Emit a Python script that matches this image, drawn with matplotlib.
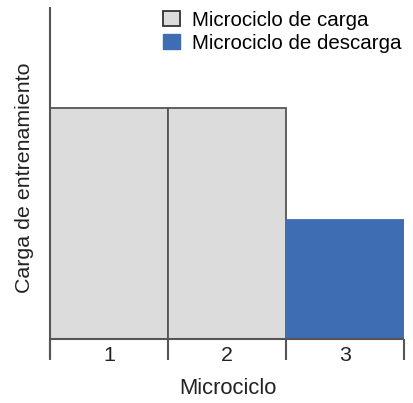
import matplotlib.pyplot as plt
from matplotlib.patches import Patch

# data
microciclos = ['1', '2', '3']
carga = [100, 100, 51.5]
tipo = ['carga', 'carga', 'descarga']
legend_labels = ['Microciclo de carga', 'Microciclo de descarga']

gris = '#dcdcdc'
azul = '#3e6db3'
linea = '#555555'
colores = {'carga': gris, 'descarga': azul}

plt.rcParams['font.family'] = ['Liberation Sans', 'DejaVu Sans']
fs = 15.4

fig = plt.figure(figsize=(4.14, 4.03), dpi=100)
W, H = 414, 403
ax = fig.add_axes([50 / W, (H - 357) / H, (404 - 50) / W, (357 - 8) / H])

x = range(len(carga))
fills = [colores[t] for t in tipo]
edges = [linea if t == 'carga' else azul for t in tipo]
ax.bar(x, carga, width=1.0, align='edge', color=fills, edgecolor=edges, linewidth=1.3, zorder=2)

ax.set_xlim(0, 3)
ax.set_ylim(-7.8, 143.3)

# axes lines
for s in ['top', 'right', 'bottom']:
    ax.spines[s].set_visible(False)
ax.spines['left'].set_color(linea)
ax.spines['left'].set_linewidth(1.5)
ax.axhline(0, color=linea, lw=1.5, zorder=3)
ax.vlines(range(len(carga) + 1), -9.1, 0, color=linea, lw=1.5, clip_on=False, zorder=3)
ax.set_xticks([])
ax.set_yticks([])

for i, lab in enumerate(microciclos):
    ax.text(i + 0.5, -7.0, lab, ha='center', va='center', fontsize=fs, color='#222222')

fig.text(228 / W, 1 - 389 / H, 'Microciclo', ha='center', va='center', fontsize=15.8, color='#222222')
fig.text(25 / W, 1 - 178 / H, 'Carga de entrenamiento', ha='center', va='center',
         rotation=90, fontsize=fs, color='#222222')

handles = [Patch(facecolor=gris, edgecolor='#333333', linewidth=1.3),
           Patch(facecolor=azul, edgecolor=azul, linewidth=1.0)]
fig.legend(handles, legend_labels, loc='upper left', bbox_to_anchor=(163 / W, 1 - 11 / H),
           frameon=False, fontsize=14.8, borderpad=0, borderaxespad=0,
           handlelength=0.85, handleheight=0.75, handletextpad=0.55, labelspacing=0.2)

fig.savefig('out.png', dpi=100)
